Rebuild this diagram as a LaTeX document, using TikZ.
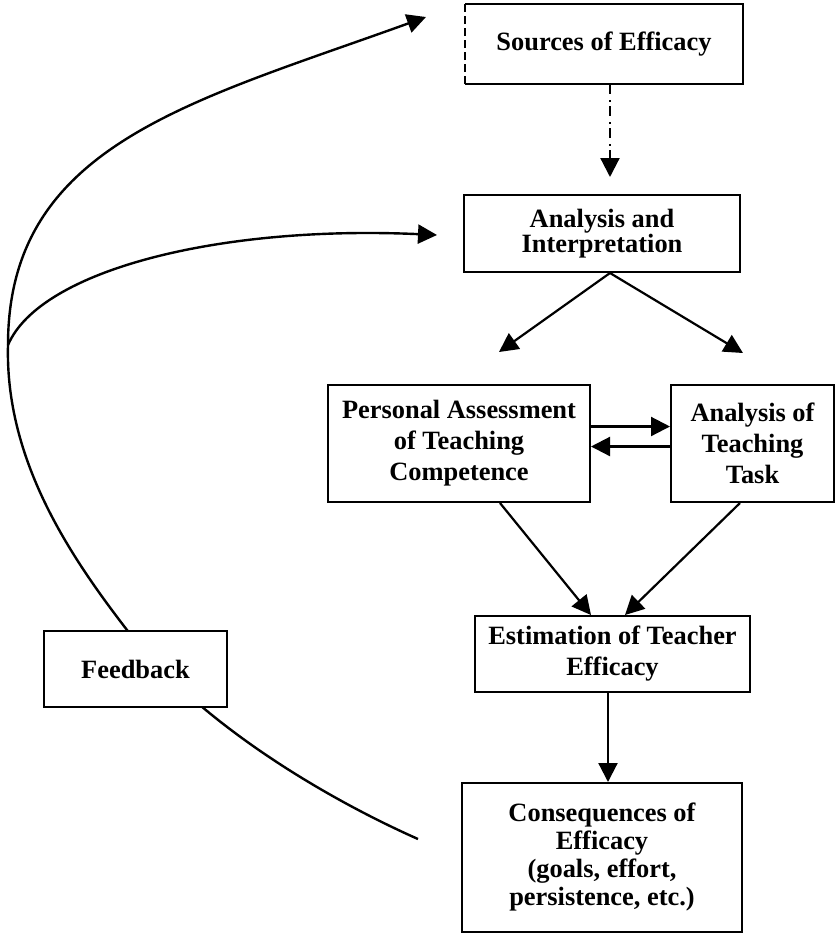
\documentclass[tikz,border=0pt]{standalone}
\usepackage{fontspec}
\setmainfont{Liberation Serif}
\usetikzlibrary{arrows.meta,calc}
\pgfdeclarelayer{bg}
\pgfsetlayers{bg,main}
\begin{document}
\begin{tikzpicture}[x=0.5pt,y=-0.5pt,
  line width=1.1pt,
  box/.style={draw, line width=1pt, inner sep=0pt, align=center, fill=white,
    font=\fontsize{13.2}{15.5}\selectfont\bfseries},
  arr/.style={line width=1.1pt, -{Triangle[length=9.5pt,width=9.5pt]}},
  curve/.style={line width=1.2pt},
  dasharr/.style={arr, dash pattern=on 5pt off 3pt on 1pt off 2pt}
]
\useasboundingbox (0,0) rectangle (837,934);

% boxes
\node[box, draw=none, minimum width=138pt, minimum height=39pt] (src) at (604,44) {Sources of Efficacy};
\draw[line width=1pt] (src.north west) -- (src.north east) -- (src.south east) -- (src.south west);
\draw[line width=1pt, dash pattern=on 4pt off 2pt] (src.south west) -- (src.north west);

\node[box, minimum width=138pt, minimum height=38.5pt, font=\fontsize{13.2}{12.5}\selectfont\bfseries] (ai) at (602,233.5) {Analysis and\\Interpretation};

\node[box, minimum width=131pt, minimum height=58.5pt] (pa) at (459,443.5) {Personal Assessment\\of Teaching\\Competence};
\node[box, minimum width=81.5pt, minimum height=58.5pt] (at) at (752.5,443.5) {Analysis of\\Teaching\\Task};

\node[box, minimum width=137.5pt, minimum height=38pt] (est) at (612.5,654) {Estimation of Teacher\\Efficacy};
\node[box, minimum width=140pt, minimum height=74.5pt, font=\fontsize{13.2}{14}\selectfont\bfseries] (cons) at (602,857.5) {Consequences of\\Efficacy\\(goals, effort,\\persistence, etc.)};

\node[box, minimum width=91.5pt, minimum height=38pt] (fb) at (135.5,669) {Feedback};

% free ends of the feedback loop
\coordinate (fbstart) at (418,839);
\coordinate (join) at (8,345);
\coordinate (tipS) at (426,17);
\coordinate (tipA) at (437,235);
\coordinate (tipP) at (499,352);
\coordinate (tipT) at (743,353);

% connectors
\draw[dasharr] ($(src.south)+(6,0)$) -- ($(ai.north)+(8,-17)$);
\draw[arr] ($(ai.south)+(8,0)$) -- (tipP);
\draw[arr] ($(ai.south)+(8,0)$) -- (tipT);
\draw[arr] ($(pa.east)+(0,-17)$) -- ($(at.west)+(0,-17)$);
\draw[arr] ($(at.west)+(0,3)$) -- ($(pa.east)+(0,3)$);
\draw[arr] ($(pa.south)+(41,0)$) -- ($(est.north)+(-21.5,0)$);
\draw[arr] ($(at.south)+(-12.5,0)$) -- ($(est.north)+(12.5,0)$);
\draw[arr] ($(est.south)+(-4.5,0)$) -- ($(cons.north)+(6,0)$);

% feedback loop (behind the Feedback box)
\begin{pgfonlayer}{bg}
\draw[curve] (fbstart) .. controls (330,800) and (200,725) .. (127,630)
  .. controls (70,556) and (5,460) .. (join);
\draw[curve, arr, line width=1.2pt] (join) .. controls (8,145) and (191,102) .. (tipS);
\draw[curve, arr, line width=1.2pt] (join) .. controls (40,270) and (220,225) .. (tipA);
\end{pgfonlayer}
\end{tikzpicture}
\end{document}
